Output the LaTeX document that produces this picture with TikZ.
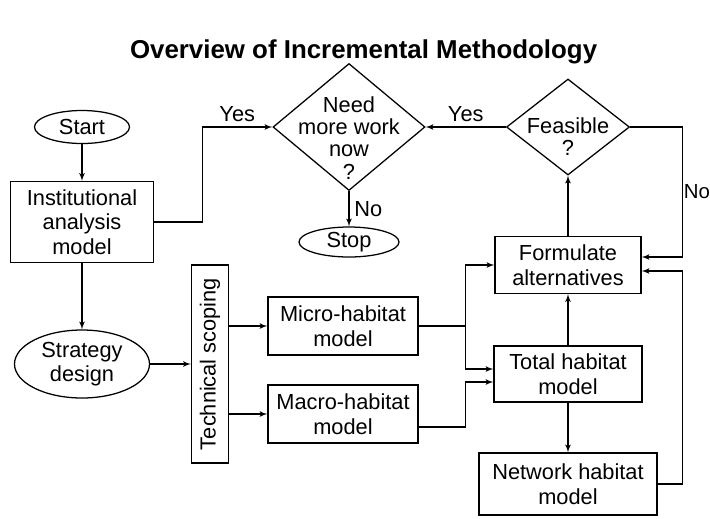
\documentclass[tikz,border=0pt]{standalone}
\usepackage{fontspec}
\setmainfont{Liberation Sans}
\usepackage{graphicx}
\usetikzlibrary{arrows}
\usetikzlibrary{shapes.geometric}

\begin{document}
\begin{tikzpicture}[line width=0.9pt]
      \tikzset{
        term/.style={draw, ellipse, inner sep=0pt, align=center},
        proc/.style={draw, rectangle, inner sep=0pt, align=center},
        decision/.style={draw, diamond, inner sep=0pt},
        qtext/.style={align=center, font=\fontsize{15.5}{15.8}\selectfont},
        line/.style={draw, -latex'},
        every node/.style={font=\fontsize{15.5}{17.5}\selectfont},
      }
      \useasboundingbox (0,0) rectangle (17.75,-12.95);
      \node [font=\fontsize{18.4}{22}\selectfont\bfseries] (title) at (9.09,-1.3) {Overview of Incremental Methodology};

      \node [term, minimum width=2.375cm, minimum height=0.825cm] (start) at (2.05,-3.175) {Start};
      \node [proc, below of=start, node distance=2.375cm, minimum width=3.575cm, minimum height=2.025cm] (inst) {Institutional\\analysis\\model};
      \node [term, below of=inst, node distance=3.55cm, minimum width=3.375cm, minimum height=1.7cm] (strat) {Strategy\\design};
      \node [proc, right of=strat, node distance=3.2cm, minimum width=0.925cm, minimum height=4.95cm] (tech) {\rotatebox{90}{Technical scoping}};
      \node [proc, right of=tech, node distance=3.325cm, yshift=0.95cm, minimum width=3.75cm, minimum height=1.45cm] (micro) {Micro-habitat\\model};
      \node [proc, right of=tech, node distance=3.325cm, yshift=-1.25cm, minimum width=3.75cm, minimum height=1.45cm] (macro) {Macro-habitat\\model};

      \node [decision, right of=start, node distance=6.675cm, minimum width=3.8cm, minimum height=3.175cm] (need) {};
      \node [qtext, yshift=-0.27cm] (needtxt) at (need) {Need\\more work\\now\\?};
      \node [term, below of=need, node distance=2.875cm, minimum width=2.5cm, minimum height=0.75cm] (stop) {Stop};
      \node [decision, right of=need, node distance=5.475cm, minimum width=3.075cm, minimum height=2.4cm] (feas) {};
      \node [qtext, yshift=-0.24cm] (feastxt) at (feas) {Feasible\\?};

      \node [proc, below of=feas, node distance=3.45cm, minimum width=3.65cm, minimum height=1.425cm] (form) {Formulate\\alternatives};
      \node [proc, below of=form, node distance=2.725cm, minimum width=3.7cm, minimum height=1.4cm] (total) {Total habitat\\model};
      \node [proc, below of=total, node distance=2.75cm, minimum width=4.45cm, minimum height=1.55cm] (net) {Network habitat\\model};

      \path [line] (start)--(inst);
      \path [line] (inst)--(strat);
      \path [line] (strat)--(tech);
      \path [line] (tech.east |- micro.west)--(micro.west);
      \path [line] (tech.east |- macro.west)--(macro.west);
      \path [line] (inst.east)-- ++(1.2,0) |- node[above, pos=0.75]{Yes} (need.west);
      \path [line] (need)--node[right]{No} (stop);
      \path [line] (feas)--node[above]{Yes} (need);
      \path [line] (feas.east)-- ++(1.3125,0) |- node[right, pos=0.25, inner sep=0.5pt, font=\fontsize{14.5}{17}\selectfont]{No} ([yshift=0.2cm]form.east);
      \path [line] (net.east)-- ++(0.625,0) |- ([yshift=-0.15cm]form.east);
      \path [line] (form)--(feas);
      \path [line] (total)--(form);
      \path [line] (total)--(net);
      %micro and macro join
      \draw (micro.east)-- ++(1.175,0) coordinate (mjoin);
      \path [line] (mjoin) |- (form.west);
      \path [line] (mjoin) |- ([yshift=0.125cm]total.west);
      \path [line] ([yshift=-0.325cm]macro.east)-- ++(1.175,0) |- ([yshift=-0.2cm]total.west);
\end{tikzpicture}
\end{document}
